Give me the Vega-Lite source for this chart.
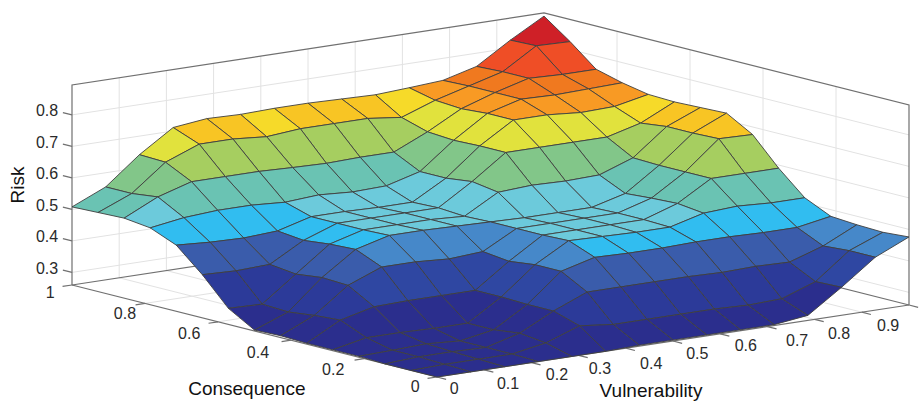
{"$schema":"https://vega.github.io/schema/vega-lite/v6.json","width":923,"height":403,"padding":0,"autosize":{"type":"fit","contains":"padding"},"background":"white","config":{"view":{"stroke":null},"text":{"font":"Liberation Sans"}},
"datasets":{
"surface":[
{"i":14,"j":14,"r":0.885},{"i":14,"j":13,"r":0.825},{"i":14,"j":12,"r":0.758},{"i":14,"j":11,"r":0.73},{"i":14,"j":10,"r":0.723},{"i":14,"j":9,"r":0.717},{"i":14,"j":8,"r":0.72},{"i":14,"j":7,"r":0.723},{"i":14,"j":6,"r":0.723},{"i":14,"j":5,"r":0.72},{"i":14,"j":4,"r":0.723},{"i":14,"j":3,"r":0.711},{"i":14,"j":2,"r":0.641},{"i":14,"j":1,"r":0.555},{"i":14,"j":0,"r":0.508},
{"i":13,"j":14,"r":0.825},{"i":13,"j":13,"r":0.828},{"i":13,"j":12,"r":0.762},{"i":13,"j":11,"r":0.733},{"i":13,"j":10,"r":0.704},{"i":13,"j":9,"r":0.666},{"i":13,"j":8,"r":0.679},{"i":13,"j":7,"r":0.679},{"i":13,"j":6,"r":0.679},{"i":13,"j":5,"r":0.67},{"i":13,"j":4,"r":0.679},{"i":13,"j":3,"r":0.679},{"i":13,"j":2,"r":0.638},{"i":13,"j":1,"r":0.555},{"i":13,"j":0,"r":0.511},
{"i":12,"j":14,"r":0.758},{"i":12,"j":13,"r":0.758},{"i":12,"j":12,"r":0.762},{"i":12,"j":11,"r":0.733},{"i":12,"j":10,"r":0.698},{"i":12,"j":9,"r":0.641},{"i":12,"j":8,"r":0.593},{"i":12,"j":7,"r":0.593},{"i":12,"j":6,"r":0.59},{"i":12,"j":5,"r":0.593},{"i":12,"j":4,"r":0.597},{"i":12,"j":3,"r":0.597},{"i":12,"j":2,"r":0.597},{"i":12,"j":1,"r":0.565},{"i":12,"j":0,"r":0.514},
{"i":11,"j":14,"r":0.736},{"i":11,"j":13,"r":0.733},{"i":11,"j":12,"r":0.73},{"i":11,"j":11,"r":0.733},{"i":11,"j":10,"r":0.704},{"i":11,"j":9,"r":0.635},{"i":11,"j":8,"r":0.552},{"i":11,"j":7,"r":0.523},{"i":11,"j":6,"r":0.52},{"i":11,"j":5,"r":0.527},{"i":11,"j":4,"r":0.52},{"i":11,"j":3,"r":0.527},{"i":11,"j":2,"r":0.527},{"i":11,"j":1,"r":0.52},{"i":11,"j":0,"r":0.504},
{"i":10,"j":14,"r":0.72},{"i":10,"j":13,"r":0.698},{"i":10,"j":12,"r":0.695},{"i":10,"j":11,"r":0.704},{"i":10,"j":10,"r":0.704},{"i":10,"j":9,"r":0.638},{"i":10,"j":8,"r":0.552},{"i":10,"j":7,"r":0.492},{"i":10,"j":6,"r":0.492},{"i":10,"j":5,"r":0.495},{"i":10,"j":4,"r":0.495},{"i":10,"j":3,"r":0.466},{"i":10,"j":2,"r":0.46},{"i":10,"j":1,"r":0.463},{"i":10,"j":0,"r":0.47},
{"i":9,"j":14,"r":0.717},{"i":9,"j":13,"r":0.666},{"i":9,"j":12,"r":0.638},{"i":9,"j":11,"r":0.638},{"i":9,"j":10,"r":0.638},{"i":9,"j":9,"r":0.638},{"i":9,"j":8,"r":0.562},{"i":9,"j":7,"r":0.495},{"i":9,"j":6,"r":0.495},{"i":9,"j":5,"r":0.495},{"i":9,"j":4,"r":0.495},{"i":9,"j":3,"r":0.457},{"i":9,"j":2,"r":0.397},{"i":9,"j":1,"r":0.393},{"i":9,"j":0,"r":0.397},
{"i":8,"j":14,"r":0.72},{"i":8,"j":13,"r":0.676},{"i":8,"j":12,"r":0.593},{"i":8,"j":11,"r":0.555},{"i":8,"j":10,"r":0.552},{"i":8,"j":9,"r":0.555},{"i":8,"j":8,"r":0.549},{"i":8,"j":7,"r":0.489},{"i":8,"j":6,"r":0.495},{"i":8,"j":5,"r":0.495},{"i":8,"j":4,"r":0.495},{"i":8,"j":3,"r":0.466},{"i":8,"j":2,"r":0.387},{"i":8,"j":1,"r":0.308},{"i":8,"j":0,"r":0.311},
{"i":7,"j":14,"r":0.723},{"i":7,"j":13,"r":0.676},{"i":7,"j":12,"r":0.59},{"i":7,"j":11,"r":0.517},{"i":7,"j":10,"r":0.489},{"i":7,"j":9,"r":0.489},{"i":7,"j":8,"r":0.489},{"i":7,"j":7,"r":0.492},{"i":7,"j":6,"r":0.495},{"i":7,"j":5,"r":0.498},{"i":7,"j":4,"r":0.498},{"i":7,"j":3,"r":0.47},{"i":7,"j":2,"r":0.397},{"i":7,"j":1,"r":0.304},{"i":7,"j":0,"r":0.263},
{"i":6,"j":14,"r":0.676},{"i":6,"j":13,"r":0.679},{"i":6,"j":12,"r":0.59},{"i":6,"j":11,"r":0.523},{"i":6,"j":10,"r":0.492},{"i":6,"j":9,"r":0.492},{"i":6,"j":8,"r":0.492},{"i":6,"j":7,"r":0.492},{"i":6,"j":6,"r":0.435},{"i":6,"j":5,"r":0.428},{"i":6,"j":4,"r":0.435},{"i":6,"j":3,"r":0.435},{"i":6,"j":2,"r":0.393},{"i":6,"j":1,"r":0.314},{"i":6,"j":0,"r":0.266},
{"i":5,"j":14,"r":0.59},{"i":5,"j":13,"r":0.59},{"i":5,"j":12,"r":0.59},{"i":5,"j":11,"r":0.527},{"i":5,"j":10,"r":0.492},{"i":5,"j":9,"r":0.492},{"i":5,"j":8,"r":0.492},{"i":5,"j":7,"r":0.492},{"i":5,"j":6,"r":0.425},{"i":5,"j":5,"r":0.349},{"i":5,"j":4,"r":0.349},{"i":5,"j":3,"r":0.349},{"i":5,"j":2,"r":0.346},{"i":5,"j":1,"r":0.32},{"i":5,"j":0,"r":0.263},
{"i":4,"j":14,"r":0.517},{"i":4,"j":13,"r":0.517},{"i":4,"j":12,"r":0.523},{"i":4,"j":11,"r":0.517},{"i":4,"j":10,"r":0.489},{"i":4,"j":9,"r":0.489},{"i":4,"j":8,"r":0.492},{"i":4,"j":7,"r":0.495},{"i":4,"j":6,"r":0.435},{"i":4,"j":5,"r":0.349},{"i":4,"j":4,"r":0.282},{"i":4,"j":3,"r":0.282},{"i":4,"j":2,"r":0.285},{"i":4,"j":1,"r":0.285},{"i":4,"j":0,"r":0.263},
{"i":3,"j":14,"r":0.479},{"i":3,"j":13,"r":0.46},{"i":3,"j":12,"r":0.46},{"i":3,"j":11,"r":0.463},{"i":3,"j":10,"r":0.463},{"i":3,"j":9,"r":0.46},{"i":3,"j":8,"r":0.46},{"i":3,"j":7,"r":0.463},{"i":3,"j":6,"r":0.435},{"i":3,"j":5,"r":0.346},{"i":3,"j":4,"r":0.282},{"i":3,"j":3,"r":0.263},{"i":3,"j":2,"r":0.27},{"i":3,"j":1,"r":0.266},{"i":3,"j":0,"r":0.263},
{"i":2,"j":14,"r":0.473},{"i":2,"j":13,"r":0.422},{"i":2,"j":12,"r":0.387},{"i":2,"j":11,"r":0.39},{"i":2,"j":10,"r":0.387},{"i":2,"j":9,"r":0.39},{"i":2,"j":8,"r":0.39},{"i":2,"j":7,"r":0.39},{"i":2,"j":6,"r":0.39},{"i":2,"j":5,"r":0.346},{"i":2,"j":4,"r":0.292},{"i":2,"j":3,"r":0.263},{"i":2,"j":2,"r":0.266},{"i":2,"j":1,"r":0.266},{"i":2,"j":0,"r":0.26},
{"i":1,"j":14,"r":0.47},{"i":1,"j":13,"r":0.428},{"i":1,"j":12,"r":0.346},{"i":1,"j":11,"r":0.308},{"i":1,"j":10,"r":0.304},{"i":1,"j":9,"r":0.308},{"i":1,"j":8,"r":0.308},{"i":1,"j":7,"r":0.308},{"i":1,"j":6,"r":0.308},{"i":1,"j":5,"r":0.32},{"i":1,"j":4,"r":0.282},{"i":1,"j":3,"r":0.263},{"i":1,"j":2,"r":0.263},{"i":1,"j":1,"r":0.263},{"i":1,"j":0,"r":0.26},
{"i":0,"j":14,"r":0.476},{"i":0,"j":13,"r":0.428},{"i":0,"j":12,"r":0.349},{"i":0,"j":11,"r":0.276},{"i":0,"j":10,"r":0.263},{"i":0,"j":9,"r":0.263},{"i":0,"j":8,"r":0.263},{"i":0,"j":7,"r":0.263},{"i":0,"j":6,"r":0.263},{"i":0,"j":5,"r":0.26},{"i":0,"j":4,"r":0.26},{"i":0,"j":3,"r":0.26},{"i":0,"j":2,"r":0.26},{"i":0,"j":1,"r":0.26},{"i":0,"j":0,"r":0.26}
],
"grid":[
{"s":"v1","o":0,"c":0,"v":0.1,"z":0.26},{"s":"v1","o":1,"c":1,"v":0.1,"z":0.26},{"s":"v1","o":2,"c":1,"v":0.1,"z":0.895},
{"s":"v2","o":0,"c":0,"v":0.2,"z":0.26},{"s":"v2","o":1,"c":1,"v":0.2,"z":0.26},{"s":"v2","o":2,"c":1,"v":0.2,"z":0.895},
{"s":"v3","o":0,"c":0,"v":0.3,"z":0.26},{"s":"v3","o":1,"c":1,"v":0.3,"z":0.26},{"s":"v3","o":2,"c":1,"v":0.3,"z":0.895},
{"s":"v4","o":0,"c":0,"v":0.4,"z":0.26},{"s":"v4","o":1,"c":1,"v":0.4,"z":0.26},{"s":"v4","o":2,"c":1,"v":0.4,"z":0.895},
{"s":"v5","o":0,"c":0,"v":0.5,"z":0.26},{"s":"v5","o":1,"c":1,"v":0.5,"z":0.26},{"s":"v5","o":2,"c":1,"v":0.5,"z":0.895},
{"s":"v6","o":0,"c":0,"v":0.6,"z":0.26},{"s":"v6","o":1,"c":1,"v":0.6,"z":0.26},{"s":"v6","o":2,"c":1,"v":0.6,"z":0.895},
{"s":"v7","o":0,"c":0,"v":0.7,"z":0.26},{"s":"v7","o":1,"c":1,"v":0.7,"z":0.26},{"s":"v7","o":2,"c":1,"v":0.7,"z":0.895},
{"s":"v8","o":0,"c":0,"v":0.8,"z":0.26},{"s":"v8","o":1,"c":1,"v":0.8,"z":0.26},{"s":"v8","o":2,"c":1,"v":0.8,"z":0.895},
{"s":"v9","o":0,"c":0,"v":0.9,"z":0.26},{"s":"v9","o":1,"c":1,"v":0.9,"z":0.26},{"s":"v9","o":2,"c":1,"v":0.9,"z":0.895},
{"s":"c2","o":0,"c":0.2,"v":0,"z":0.26},{"s":"c2","o":1,"c":0.2,"v":1,"z":0.26},{"s":"c2","o":2,"c":0.2,"v":1,"z":0.895},
{"s":"c4","o":0,"c":0.4,"v":0,"z":0.26},{"s":"c4","o":1,"c":0.4,"v":1,"z":0.26},{"s":"c4","o":2,"c":0.4,"v":1,"z":0.895},
{"s":"c6","o":0,"c":0.6,"v":0,"z":0.26},{"s":"c6","o":1,"c":0.6,"v":1,"z":0.26},{"s":"c6","o":2,"c":0.6,"v":1,"z":0.895},
{"s":"c8","o":0,"c":0.8,"v":0,"z":0.26},{"s":"c8","o":1,"c":0.8,"v":1,"z":0.26},{"s":"c8","o":2,"c":0.8,"v":1,"z":0.895},
{"s":"z3","o":0,"c":1,"v":0,"z":0.3},{"s":"z3","o":1,"c":1,"v":1,"z":0.3},{"s":"z3","o":2,"c":0,"v":1,"z":0.3},
{"s":"z4","o":0,"c":1,"v":0,"z":0.4},{"s":"z4","o":1,"c":1,"v":1,"z":0.4},{"s":"z4","o":2,"c":0,"v":1,"z":0.4},
{"s":"z5","o":0,"c":1,"v":0,"z":0.5},{"s":"z5","o":1,"c":1,"v":1,"z":0.5},{"s":"z5","o":2,"c":0,"v":1,"z":0.5},
{"s":"z6","o":0,"c":1,"v":0,"z":0.6},{"s":"z6","o":1,"c":1,"v":1,"z":0.6},{"s":"z6","o":2,"c":0,"v":1,"z":0.6},
{"s":"z7","o":0,"c":1,"v":0,"z":0.7},{"s":"z7","o":1,"c":1,"v":1,"z":0.7},{"s":"z7","o":2,"c":0,"v":1,"z":0.7},
{"s":"z8","o":0,"c":1,"v":0,"z":0.8},{"s":"z8","o":1,"c":1,"v":1,"z":0.8},{"s":"z8","o":2,"c":0,"v":1,"z":0.8}
],
"box":[
{"s":"top","o":0,"c":1,"v":0,"z":0.26},{"s":"top","o":1,"c":1,"v":0,"z":0.895},{"s":"top","o":2,"c":1,"v":1,"z":0.895},{"s":"top","o":3,"c":0,"v":1,"z":0.895},{"s":"top","o":4,"c":0,"v":1,"z":0.26},
{"s":"floor","o":0,"c":1,"v":0,"z":0.26},{"s":"floor","o":1,"c":0,"v":0,"z":0.26},{"s":"floor","o":2,"c":0,"v":1,"z":0.26},
{"s":"back","o":0,"c":1,"v":0,"z":0.26},{"s":"back","o":1,"c":1,"v":1,"z":0.26},{"s":"back","o":2,"c":0,"v":1,"z":0.26},
{"s":"tz3","o":0,"c":1,"v":0,"z":0.3},{"s":"tz3","o":1,"c":1.025,"v":0,"z":0.3},
{"s":"tz4","o":0,"c":1,"v":0,"z":0.4},{"s":"tz4","o":1,"c":1.025,"v":0,"z":0.4},
{"s":"tz5","o":0,"c":1,"v":0,"z":0.5},{"s":"tz5","o":1,"c":1.025,"v":0,"z":0.5},
{"s":"tz6","o":0,"c":1,"v":0,"z":0.6},{"s":"tz6","o":1,"c":1.025,"v":0,"z":0.6},
{"s":"tz7","o":0,"c":1,"v":0,"z":0.7},{"s":"tz7","o":1,"c":1.025,"v":0,"z":0.7},
{"s":"tz8","o":0,"c":1,"v":0,"z":0.8},{"s":"tz8","o":1,"c":1.025,"v":0,"z":0.8},
{"s":"tc0","o":0,"c":0,"v":0,"z":0.26},{"s":"tc0","o":1,"c":0,"v":-0.02,"z":0.26},
{"s":"tc2","o":0,"c":0.2,"v":0,"z":0.26},{"s":"tc2","o":1,"c":0.2,"v":-0.02,"z":0.26},
{"s":"tc4","o":0,"c":0.4,"v":0,"z":0.26},{"s":"tc4","o":1,"c":0.4,"v":-0.02,"z":0.26},
{"s":"tc6","o":0,"c":0.6,"v":0,"z":0.26},{"s":"tc6","o":1,"c":0.6,"v":-0.02,"z":0.26},
{"s":"tc8","o":0,"c":0.8,"v":0,"z":0.26},{"s":"tc8","o":1,"c":0.8,"v":-0.02,"z":0.26},
{"s":"tc10","o":0,"c":1,"v":0,"z":0.26},{"s":"tc10","o":1,"c":1,"v":-0.02,"z":0.26},
{"s":"tv0","o":0,"c":0,"v":0,"z":0.26},{"s":"tv0","o":1,"c":-0.025,"v":0,"z":0.26},
{"s":"tv1","o":0,"c":0,"v":0.1,"z":0.26},{"s":"tv1","o":1,"c":-0.025,"v":0.1,"z":0.26},
{"s":"tv2","o":0,"c":0,"v":0.2,"z":0.26},{"s":"tv2","o":1,"c":-0.025,"v":0.2,"z":0.26},
{"s":"tv3","o":0,"c":0,"v":0.3,"z":0.26},{"s":"tv3","o":1,"c":-0.025,"v":0.3,"z":0.26},
{"s":"tv4","o":0,"c":0,"v":0.4,"z":0.26},{"s":"tv4","o":1,"c":-0.025,"v":0.4,"z":0.26},
{"s":"tv5","o":0,"c":0,"v":0.5,"z":0.26},{"s":"tv5","o":1,"c":-0.025,"v":0.5,"z":0.26},
{"s":"tv6","o":0,"c":0,"v":0.6,"z":0.26},{"s":"tv6","o":1,"c":-0.025,"v":0.6,"z":0.26},
{"s":"tv7","o":0,"c":0,"v":0.7,"z":0.26},{"s":"tv7","o":1,"c":-0.025,"v":0.7,"z":0.26},
{"s":"tv8","o":0,"c":0,"v":0.8,"z":0.26},{"s":"tv8","o":1,"c":-0.025,"v":0.8,"z":0.26},
{"s":"tv9","o":0,"c":0,"v":0.9,"z":0.26},{"s":"tv9","o":1,"c":-0.025,"v":0.9,"z":0.26},
{"s":"tv10","o":0,"c":0,"v":1,"z":0.26},{"s":"tv10","o":1,"c":-0.025,"v":1,"z":0.26}
],
"zlabels":[
{"t":"0.3","c":1.038,"v":0,"z":0.3},{"t":"0.4","c":1.038,"v":0,"z":0.4},{"t":"0.5","c":1.038,"v":0,"z":0.5},{"t":"0.6","c":1.038,"v":0,"z":0.6},{"t":"0.7","c":1.038,"v":0,"z":0.7},{"t":"0.8","c":1.038,"v":0,"z":0.8}
],
"ticklabels":[
{"t":"1","c":0.968,"v":-0.071,"z":0.26},{"t":"0.8","c":0.749,"v":-0.082,"z":0.26},{"t":"0.6","c":0.547,"v":-0.102,"z":0.26},{"t":"0.4","c":0.347,"v":-0.111,"z":0.26},{"t":"0.2","c":0.155,"v":-0.1,"z":0.26},{"t":"0","c":-0.045,"v":-0.081,"z":0.26},
{"t":"0","c":-0.099,"v":-0.04,"z":0.26},{"t":"0.1","c":-0.121,"v":0.057,"z":0.26},{"t":"0.2","c":-0.11,"v":0.169,"z":0.26},{"t":"0.3","c":-0.114,"v":0.257,"z":0.26},{"t":"0.4","c":-0.133,"v":0.351,"z":0.26},{"t":"0.5","c":-0.113,"v":0.464,"z":0.26},{"t":"0.6","c":-0.109,"v":0.57,"z":0.26},{"t":"0.7","c":-0.128,"v":0.664,"z":0.26},{"t":"0.8","c":-0.124,"v":0.756,"z":0.26},{"t":"0.9","c":-0.12,"v":0.863,"z":0.26}
],
"titles":[
{"t":"Consequence","c":0.115,"v":-0.314,"z":0.26,"rot":0},{"t":"Vulnerability","c":-0.316,"v":0.209,"z":0.26,"rot":0},{"t":"Risk","c":1.148,"v":0,"z":0.534,"rot":-90}
]},
"layer":[
{"data":{"name":"grid"},"transform":[{"calculate":"437-365*datum.c+472*datum.v","as":"sx"},{"calculate":"377-92*datum.c-72*datum.v-315*(datum.z-0.26)","as":"sy"}],
"mark":{"type":"line","stroke":"#e2e2e2","strokeWidth":1},
"encoding":{"x":{"field":"sx","type":"quantitative","scale":{"domain":[0,923],"nice":false,"zero":false},"axis":null},"y":{"field":"sy","type":"quantitative","scale":{"domain":[403,0],"nice":false,"zero":false},"axis":null},"detail":{"field":"s"},"order":{"field":"o"}}},
{"data":{"name":"box"},"transform":[{"calculate":"437-365*datum.c+472*datum.v","as":"sx"},{"calculate":"377-92*datum.c-72*datum.v-315*(datum.z-0.26)","as":"sy"}],
"mark":{"type":"line","stroke":"#707070","strokeWidth":1.2},
"encoding":{"x":{"field":"sx","type":"quantitative","scale":{"domain":[0,923],"nice":false,"zero":false},"axis":null},"y":{"field":"sy","type":"quantitative","scale":{"domain":[403,0],"nice":false,"zero":false},"axis":null},"detail":{"field":"s"},"order":{"field":"o"}}},
{"data":{"name":"surface"},"transform":[
{"calculate":"[0,1,2,3,4]","as":"k"},{"flatten":["k"]},
{"calculate":"datum.i-((datum.k==1||datum.k==2)?1:0)","as":"ci"},
{"calculate":"datum.j-((datum.k==2||datum.k==3)?1:0)","as":"cj"},
{"filter":"datum.ci>=0&&datum.cj>=0&&datum.ci<14&&datum.cj<14"},
{"calculate":"datum.ci*100+datum.cj","as":"cell"},
{"calculate":"datum.k==0?datum.r:null","as":"r0"},
{"joinaggregate":[{"op":"max","field":"r0","as":"face"}],"groupby":["cell"]},
{"calculate":"437-365*datum.i/14+472*datum.j/14","as":"sx"},
{"calculate":"377-92*datum.i/14-72*datum.j/14-315*(datum.r-0.26)","as":"sy"}],
"mark":{"type":"line","stroke":"#3f3f3f","strokeWidth":1,"strokeJoin":"round","strokeOpacity":0.9},
"encoding":{"x":{"field":"sx","type":"quantitative","scale":{"domain":[0,923],"nice":false,"zero":false},"axis":null},"y":{"field":"sy","type":"quantitative","scale":{"domain":[403,0],"nice":false,"zero":false},"axis":null},"detail":{"field":"cell"},"order":{"field":"k"},
"fill":{"field":"face","type":"quantitative","legend":null,"scale":{"type":"threshold","domain":[0.298,0.33,0.368,0.412,0.447,0.479,0.507,0.539,0.571,0.616,0.654,0.673,0.692,0.718,0.749,0.8],"range":["#2b2e8d","#2c3a99","#2f47a2","#3a5cab","#4688c9","#31bdf0","#6ccadb","#6ac3b3","#82c689","#a6ce60","#e1e23d","#f6da29","#f8c524","#f89a24","#f0791f","#ef4e26","#cf2027"]}}}},
{"data":{"name":"zlabels"},"transform":[{"calculate":"437-365*datum.c+472*datum.v","as":"sx"},{"calculate":"377-92*datum.c-72*datum.v-315*(datum.z-0.26)","as":"sy"}],
"mark":{"type":"text","fontSize":16,"color":"#2a2a2a","baseline":"middle","align":"right"},
"encoding":{"x":{"field":"sx","type":"quantitative","scale":{"domain":[0,923],"nice":false,"zero":false},"axis":null},"y":{"field":"sy","type":"quantitative","scale":{"domain":[403,0],"nice":false,"zero":false},"axis":null},"text":{"field":"t"}}},
{"data":{"name":"ticklabels"},"transform":[{"calculate":"437-365*datum.c+472*datum.v","as":"sx"},{"calculate":"377-92*datum.c-72*datum.v-315*(datum.z-0.26)","as":"sy"}],
"mark":{"type":"text","fontSize":16,"color":"#2a2a2a","baseline":"middle","align":"center"},
"encoding":{"x":{"field":"sx","type":"quantitative","scale":{"domain":[0,923],"nice":false,"zero":false},"axis":null},"y":{"field":"sy","type":"quantitative","scale":{"domain":[403,0],"nice":false,"zero":false},"axis":null},"text":{"field":"t"}}},
{"data":{"name":"titles"},"transform":[{"filter":"datum.rot==0"},{"calculate":"437-365*datum.c+472*datum.v","as":"sx"},{"calculate":"377-92*datum.c-72*datum.v-315*(datum.z-0.26)","as":"sy"}],
"mark":{"type":"text","fontSize":19,"color":"#111111","baseline":"middle","align":"center"},
"encoding":{"x":{"field":"sx","type":"quantitative","scale":{"domain":[0,923],"nice":false,"zero":false},"axis":null},"y":{"field":"sy","type":"quantitative","scale":{"domain":[403,0],"nice":false,"zero":false},"axis":null},"text":{"field":"t"}}},
{"data":{"name":"titles"},"transform":[{"filter":"datum.rot!=0"},{"calculate":"437-365*datum.c+472*datum.v","as":"sx"},{"calculate":"377-92*datum.c-72*datum.v-315*(datum.z-0.26)","as":"sy"}],
"mark":{"type":"text","fontSize":19,"color":"#111111","baseline":"middle","align":"center","angle":270},
"encoding":{"x":{"field":"sx","type":"quantitative","scale":{"domain":[0,923],"nice":false,"zero":false},"axis":null},"y":{"field":"sy","type":"quantitative","scale":{"domain":[403,0],"nice":false,"zero":false},"axis":null},"text":{"field":"t"}}}
]}
